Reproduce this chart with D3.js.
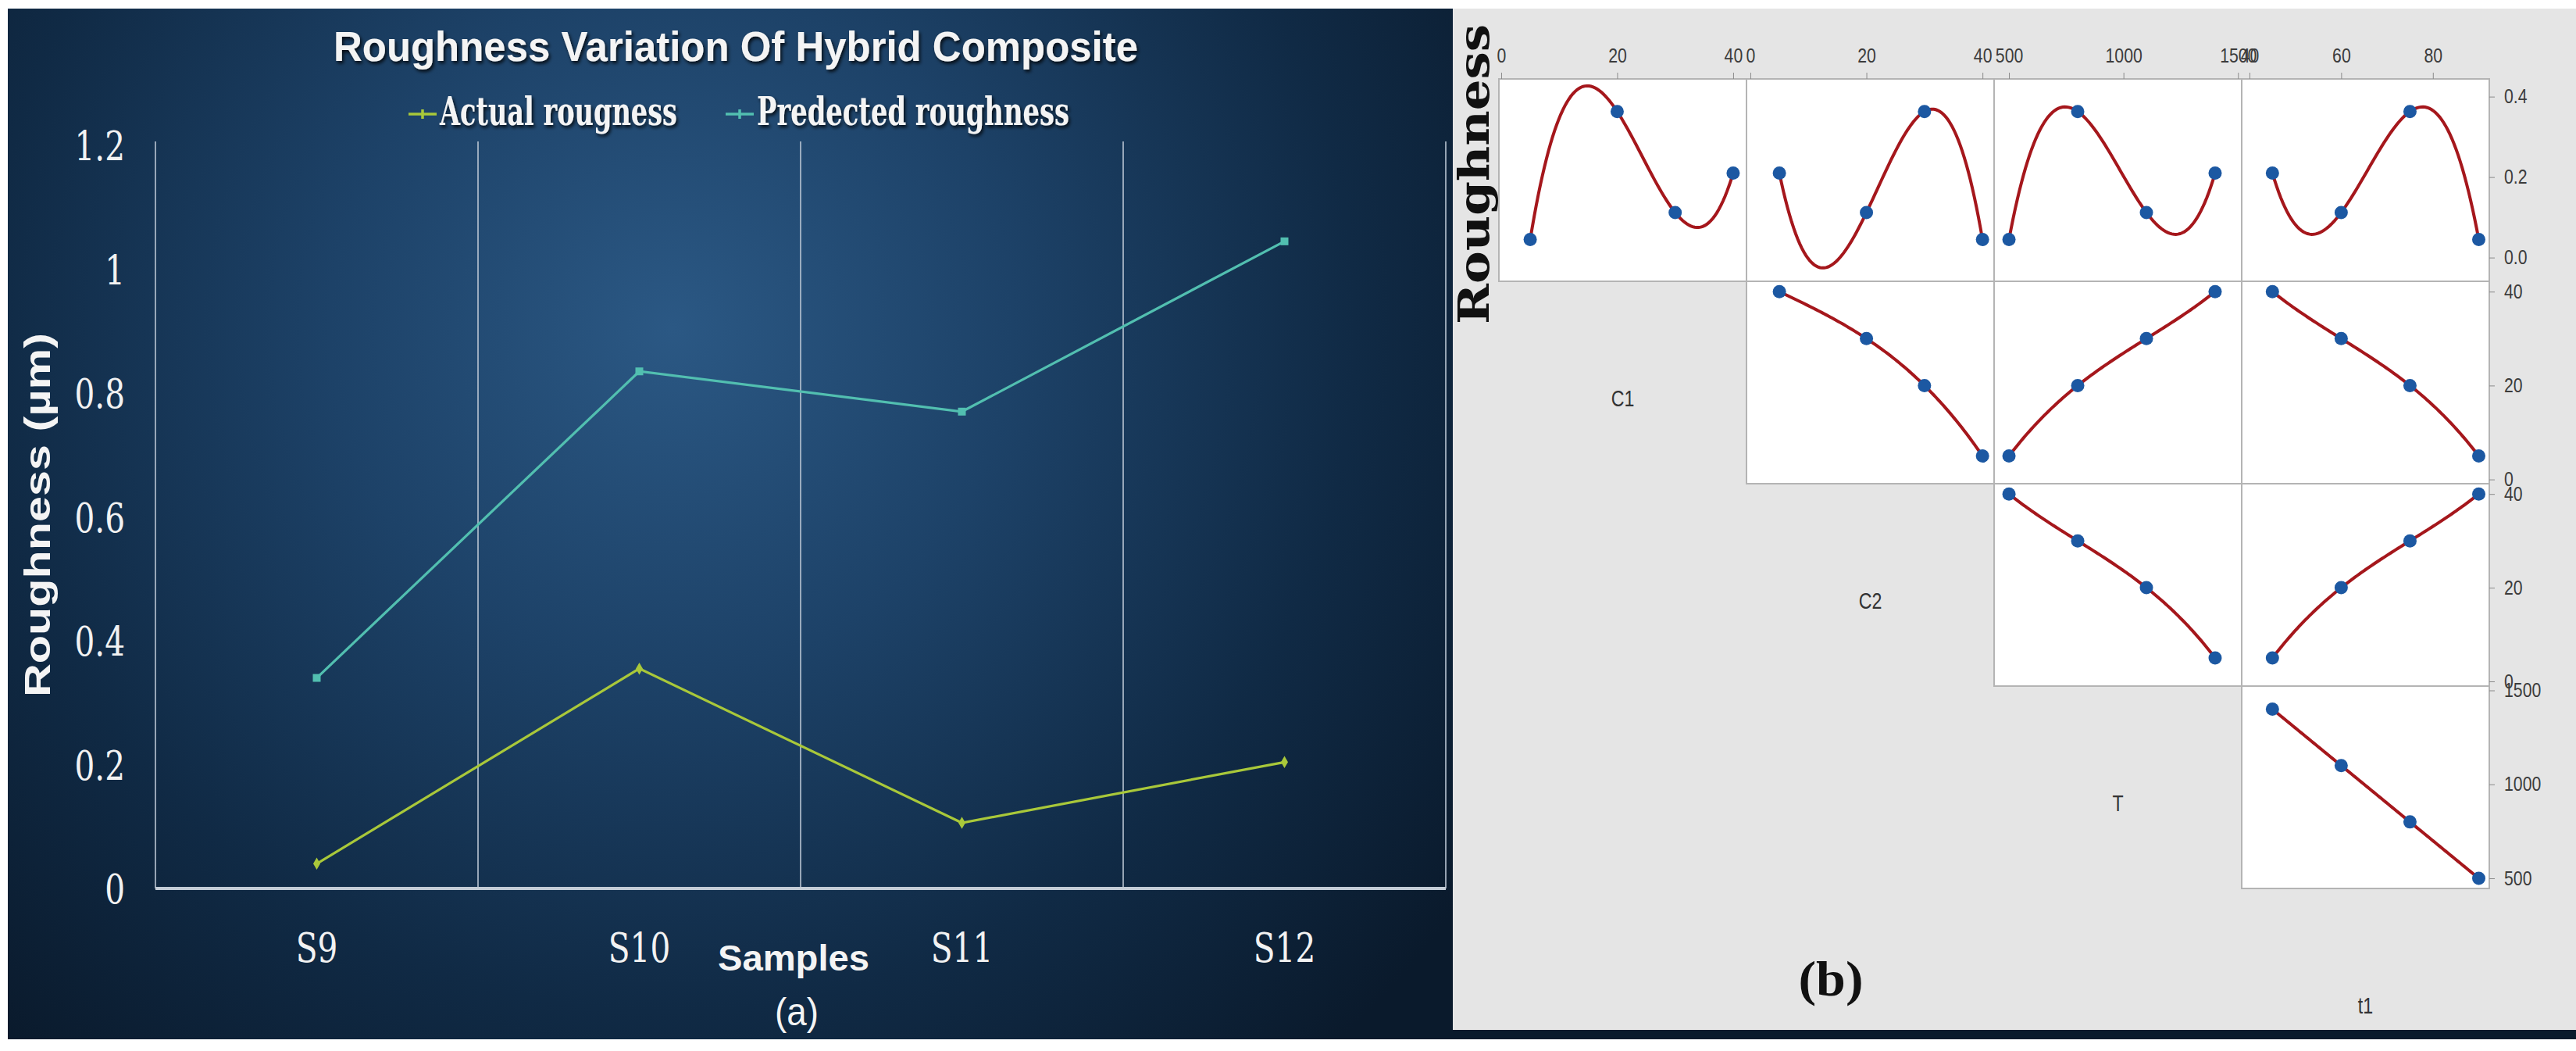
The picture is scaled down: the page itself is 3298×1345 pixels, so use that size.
<!DOCTYPE html>
<html>
<head>
<meta charset="utf-8">
<script src="https://cdn.jsdelivr.net/npm/d3@7"></script>
<style>
  html, body { margin: 0; padding: 0; background: #fff; }
  svg { display: block; }
</style>
</head>
<body>
<svg id="chart"></svg>
<script>
// ---- data (a): line chart ----
var samples = ["S9", "S10", "S11", "S12"];
var actualRoughness = [0.04, 0.355, 0.106, 0.204];
var predictedRoughness = [0.34, 0.835, 0.77, 1.045];
var yTicksA = [0, 0.2, 0.4, 0.6, 0.8, 1, 1.2];
var yTickLabelsA = ["0", "0.2", "0.4", "0.6", "0.8", "1", "1.2"];

// ---- data (b): matrix plot ----
var matrixRoughness = [0.045, 0.363, 0.112, 0.21];
var C1 = [5, 20, 30, 40];
var C2 = [40, 30, 20, 5];
var T = [500, 800, 1100, 1400];
var t1 = [90, 75, 60, 45];
var colNames = ["C1", "C2", "T", "t1"];
var rowNames = ["Roughness", "C1", "C2", "T"];
var colTicks = [[0, 20, 40], [0, 20, 40], [500, 1000, 1500], [40, 60, 80]];
var rowTicks = [[0, 0.2, 0.4], [0, 20, 40], [0, 20, 40], [500, 1000, 1500]];
var colDomains = [[-0.4, 42.3], [-0.67, 42.0], [435, 1516], [38.3, 92.3]];
var rowDomains = [[-0.059, 0.444], [-0.9, 42.2], [-1, 42.2], [446, 1523]];

var W = 3298, H = 1345;
var svg = d3.select("#chart").attr("width", W).attr("height", H);

var defs = svg.append("defs");
var grad = defs.append("radialGradient").attr("id", "bg")
    .attr("gradientUnits", "userSpaceOnUse")
    .attr("cx", 860).attr("cy", 420).attr("r", 1250);
grad.append("stop").attr("offset", "0%").attr("stop-color", "#2b5884");
grad.append("stop").attr("offset", "35%").attr("stop-color", "#1d4268");
grad.append("stop").attr("offset", "70%").attr("stop-color", "#102a45");
grad.append("stop").attr("offset", "100%").attr("stop-color", "#0a1a2c");

var shadow = defs.append("filter").attr("id", "shadow")
    .attr("x", "-5%").attr("y", "-20%").attr("width", "110%").attr("height", "150%");
shadow.append("feDropShadow").attr("dx", 2).attr("dy", 3).attr("stdDeviation", 2)
    .attr("flood-color", "#000").attr("flood-opacity", 0.8);

// squeeze text horizontally to match the narrow fonts in the picture
function squeeze(sel, k) {
    sel.each(function() {
        var len = this.getComputedTextLength();
        d3.select(this).attr("textLength", len * k).attr("lengthAdjust", "spacingAndGlyphs");
    });
}

// backgrounds
svg.append("rect").attr("width", W).attr("height", H).attr("fill", "#fff");
svg.append("rect").attr("x", 10).attr("y", 11).attr("width", W - 10).attr("height", 1319)
    .attr("fill", "url(#bg)");
svg.append("rect").attr("x", 1860).attr("y", 11).attr("width", W - 1860).attr("height", 1307)
    .attr("fill", "#e5e5e5");

// =================== (a) ===================
var gA = svg.append("g");
var x = d3.scaleBand().domain(samples).range([199, 1851]);
var y = d3.scaleLinear().domain([0, 1.2]).range([1137, 186]);

// vertical grid lines between categories
var gridX = samples.map(function(s) { return x(s); }).concat([x.range()[1]]);
gA.append("g").selectAll("line").data(gridX).enter().append("line")
    .attr("x1", function(d) { return d; }).attr("x2", function(d) { return d; })
    .attr("y1", y(1.2) - 5).attr("y2", y(0))
    .attr("stroke", "#b9c5d2").attr("stroke-width", 1.6);

gA.append("line")
    .attr("x1", x.range()[0]).attr("x2", x.range()[1])
    .attr("y1", y(0)).attr("y2", y(0))
    .attr("stroke", "#c3ccd6").attr("stroke-width", 4);

var yAxis = gA.append("g").attr("transform", "translate(199,0)")
    .call(d3.axisLeft(y).tickValues(yTicksA).tickSize(0).tickPadding(39)
        .tickFormat(function(d, i) { return yTickLabelsA[i]; }));
yAxis.select(".domain").remove();
yAxis.selectAll("text")
    .attr("font-family", "DejaVu Serif").attr("font-size", 52)
    .attr("fill", "#f2f2f2").attr("dy", "0.36em")
    .call(squeeze, 0.78);

gA.append("g").selectAll("text").data(samples).enter().append("text")
    .attr("x", function(d) { return x(d) + x.bandwidth() / 2; })
    .attr("y", 1231)
    .attr("text-anchor", "middle")
    .attr("font-family", "DejaVu Serif").attr("font-size", 52)
    .attr("fill", "#f2f2f2")
    .text(function(d) { return d; })
    .call(squeeze, 0.78);

var line = d3.line()
    .x(function(d, i) { return x(samples[i]) + x.bandwidth() / 2; })
    .y(function(d) { return y(d); });

var colActual = "#a9c83a", colPred = "#52bfb0";

gA.append("path").datum(predictedRoughness)
    .attr("d", line).attr("fill", "none")
    .attr("stroke", colPred).attr("stroke-width", 3.2);
gA.append("path").datum(actualRoughness)
    .attr("d", line).attr("fill", "none")
    .attr("stroke", colActual).attr("stroke-width", 3.2);

gA.append("g").selectAll("rect").data(predictedRoughness).enter().append("rect")
    .attr("x", function(d, i) { return x(samples[i]) + x.bandwidth() / 2 - 5; })
    .attr("y", function(d) { return y(d) - 5; })
    .attr("width", 10).attr("height", 10)
    .attr("fill", colPred);
gA.append("g").selectAll("path").data(actualRoughness).enter().append("path")
    .attr("d", d3.symbol().type(d3.symbolDiamond).size(70))
    .attr("transform", function(d, i) {
        return "translate(" + (x(samples[i]) + x.bandwidth() / 2) + "," + y(d) + ")";
    })
    .attr("fill", colActual);

// title
gA.append("text")
    .attr("x", 942).attr("y", 78).attr("text-anchor", "middle")
    .attr("font-family", "Liberation Sans, Arial, sans-serif").attr("font-weight", "bold")
    .attr("font-size", 53).attr("fill", "#f4f4f4")
    .attr("textLength", 1030).attr("lengthAdjust", "spacingAndGlyphs")
    .attr("filter", "url(#shadow)")
    .text("Roughness Variation Of Hybrid Composite");

// legend
var legend = [
    { name: "Actual rougness", color: colActual, x: 523, len: 304 },
    { name: "Predected roughness", color: colPred, x: 929, len: 400 }
];
var lg = gA.append("g").selectAll("g").data(legend).enter().append("g");
lg.append("line")
    .attr("x1", function(d) { return d.x; }).attr("x2", function(d) { return d.x + 36; })
    .attr("y1", 146).attr("y2", 146)
    .attr("stroke", function(d) { return d.color; }).attr("stroke-width", 3.5);
lg.append("line")
    .attr("x1", function(d) { return d.x + 18; }).attr("x2", function(d) { return d.x + 18; })
    .attr("y1", 140).attr("y2", 152)
    .attr("stroke", function(d) { return d.color; }).attr("stroke-width", 3.5);
lg.append("text")
    .attr("x", function(d) { return d.x + 40; }).attr("y", 160)
    .attr("font-family", "DejaVu Serif").attr("font-weight", "bold")
    .attr("font-size", 50).attr("fill", "#f4f4f4")
    .attr("textLength", function(d) { return d.len; })
    .attr("lengthAdjust", "spacingAndGlyphs")
    .attr("filter", "url(#shadow)")
    .text(function(d) { return d.name; });

// axis titles
gA.append("text")
    .attr("transform", "translate(64,659) rotate(-90)")
    .attr("text-anchor", "middle")
    .attr("font-family", "Liberation Sans, Arial, sans-serif").attr("font-weight", "bold")
    .attr("font-size", 46).attr("fill", "#f4f4f4")
    .attr("textLength", 466).attr("lengthAdjust", "spacingAndGlyphs")
    .text("Roughness (µm)");
gA.append("text")
    .attr("x", 1016).attr("y", 1242).attr("text-anchor", "middle")
    .attr("font-family", "Liberation Sans, Arial, sans-serif").attr("font-weight", "bold")
    .attr("font-size", 47).attr("fill", "#f4f4f4")
    .attr("textLength", 194).attr("lengthAdjust", "spacingAndGlyphs")
    .text("Samples");
gA.append("text")
    .attr("x", 1020).attr("y", 1312).attr("text-anchor", "middle")
    .attr("font-family", "Liberation Sans, Arial, sans-serif")
    .attr("font-size", 50).attr("fill", "#f4f4f4")
    .attr("textLength", 56).attr("lengthAdjust", "spacingAndGlyphs")
    .text("(a)");

// =================== (b) ===================
var gB = svg.append("g");
var px0 = 1919, pw = 317, py0 = 101, ph = 259;
var colData = [C1, C2, T, t1];
var rowData = [matrixRoughness, C1, C2, T];

var xs = colDomains.map(function(dom, c) {
    return d3.scaleLinear().domain(dom).range([px0 + c * pw, px0 + (c + 1) * pw]);
});
var ys = rowDomains.map(function(dom, r) {
    return d3.scaleLinear().domain(dom).range([py0 + (r + 1) * ph, py0 + r * ph]);
});

// cubic through the four points (Minitab-style fitted curve)
function cubicThrough(px, py) {
    return function(v) {
        var s = 0;
        for (var i = 0; i < px.length; i++) {
            var term = py[i];
            for (var j = 0; j < px.length; j++) {
                if (j !== i) term *= (v - px[j]) / (px[i] - px[j]);
            }
            s += term;
        }
        return s;
    };
}

for (var r = 0; r < 4; r++) {
    for (var c = r; c < 4; c++) {
        var g = gB.append("g");
        g.append("rect")
            .attr("x", xs[c].range()[0]).attr("y", ys[r].range()[1])
            .attr("width", pw).attr("height", ph)
            .attr("fill", "#fff").attr("stroke", "#b4b4b4").attr("stroke-width", 2);

        var cx = colData[c], cy = rowData[r];
        var f = cubicThrough(cx, cy);
        var lo = d3.min(cx), hi = d3.max(cx);
        var curve = d3.range(0, 101).map(function(k) {
            var v = lo + (hi - lo) * k / 100;
            return [v, f(v)];
        });
        var xsc = xs[c], ysc = ys[r];
        g.append("path").datum(curve)
            .attr("d", d3.line()
                .x(function(d) { return xsc(d[0]); })
                .y(function(d) { return ysc(d[1]); }))
            .attr("fill", "none").attr("stroke", "#a5171c").attr("stroke-width", 4);

        g.selectAll("circle").data(cx).enter().append("circle")
            .attr("cx", function(d) { return xsc(d); })
            .attr("cy", function(d, i) { return ysc(cy[i]); })
            .attr("r", 8.5)
            .attr("fill", "#1c58a2");
    }
}

// top axes
xs.forEach(function(sc, c) {
    var ax = gB.append("g").attr("transform", "translate(0," + py0 + ")")
        .call(d3.axisTop(sc).tickValues(colTicks[c]).tickSize(8).tickPadding(13)
            .tickFormat(d3.format("d")));
    ax.select(".domain").remove();
    ax.selectAll("line").attr("stroke", "#8a8a8a");
    ax.selectAll("text").attr("font-family", "Liberation Sans, Arial, sans-serif")
        .attr("font-size", 25).attr("fill", "#3c3c3c").call(squeeze, 0.85);
});

// right axes
ys.forEach(function(sc, r) {
    var ax = gB.append("g").attr("transform", "translate(" + (px0 + 4 * pw) + ",0)")
        .call(d3.axisRight(sc).tickValues(rowTicks[r]).tickSize(7).tickPadding(12)
            .tickFormat(r === 0 ? d3.format(".1f") : d3.format("d")));
    ax.select(".domain").remove();
    ax.selectAll("line").attr("stroke", "#8a8a8a");
    ax.selectAll("text").attr("font-family", "Liberation Sans, Arial, sans-serif")
        .attr("font-size", 25).attr("fill", "#3c3c3c").call(squeeze, 0.85);
});

// diagonal variable labels
colNames.forEach(function(name, c) {
    gB.append("text")
        .attr("x", px0 + c * pw + pw / 2)
        .attr("y", py0 + (c + 1) * ph + ph / 2 + 30)
        .attr("text-anchor", "middle")
        .attr("font-family", "Liberation Sans, Arial, sans-serif")
        .attr("font-size", 29).attr("fill", "#333")
        .text(name)
        .call(squeeze, 0.8);
});

// big row title
gB.append("text")
    .attr("transform", "translate(1906,223) rotate(-90)")
    .attr("text-anchor", "middle")
    .attr("font-family", "DejaVu Serif").attr("font-weight", "bold")
    .attr("font-size", 55).attr("fill", "#111")
    .attr("textLength", 384).attr("lengthAdjust", "spacingAndGlyphs")
    .text(rowNames[0]);

gB.append("text")
    .attr("x", 2344).attr("y", 1274).attr("text-anchor", "middle")
    .attr("font-family", "Liberation Serif, serif").attr("font-weight", "bold")
    .attr("font-size", 64).attr("fill", "#111")
    .attr("textLength", 83).attr("lengthAdjust", "spacingAndGlyphs")
    .text("(b)");
</script>
</body>
</html>
